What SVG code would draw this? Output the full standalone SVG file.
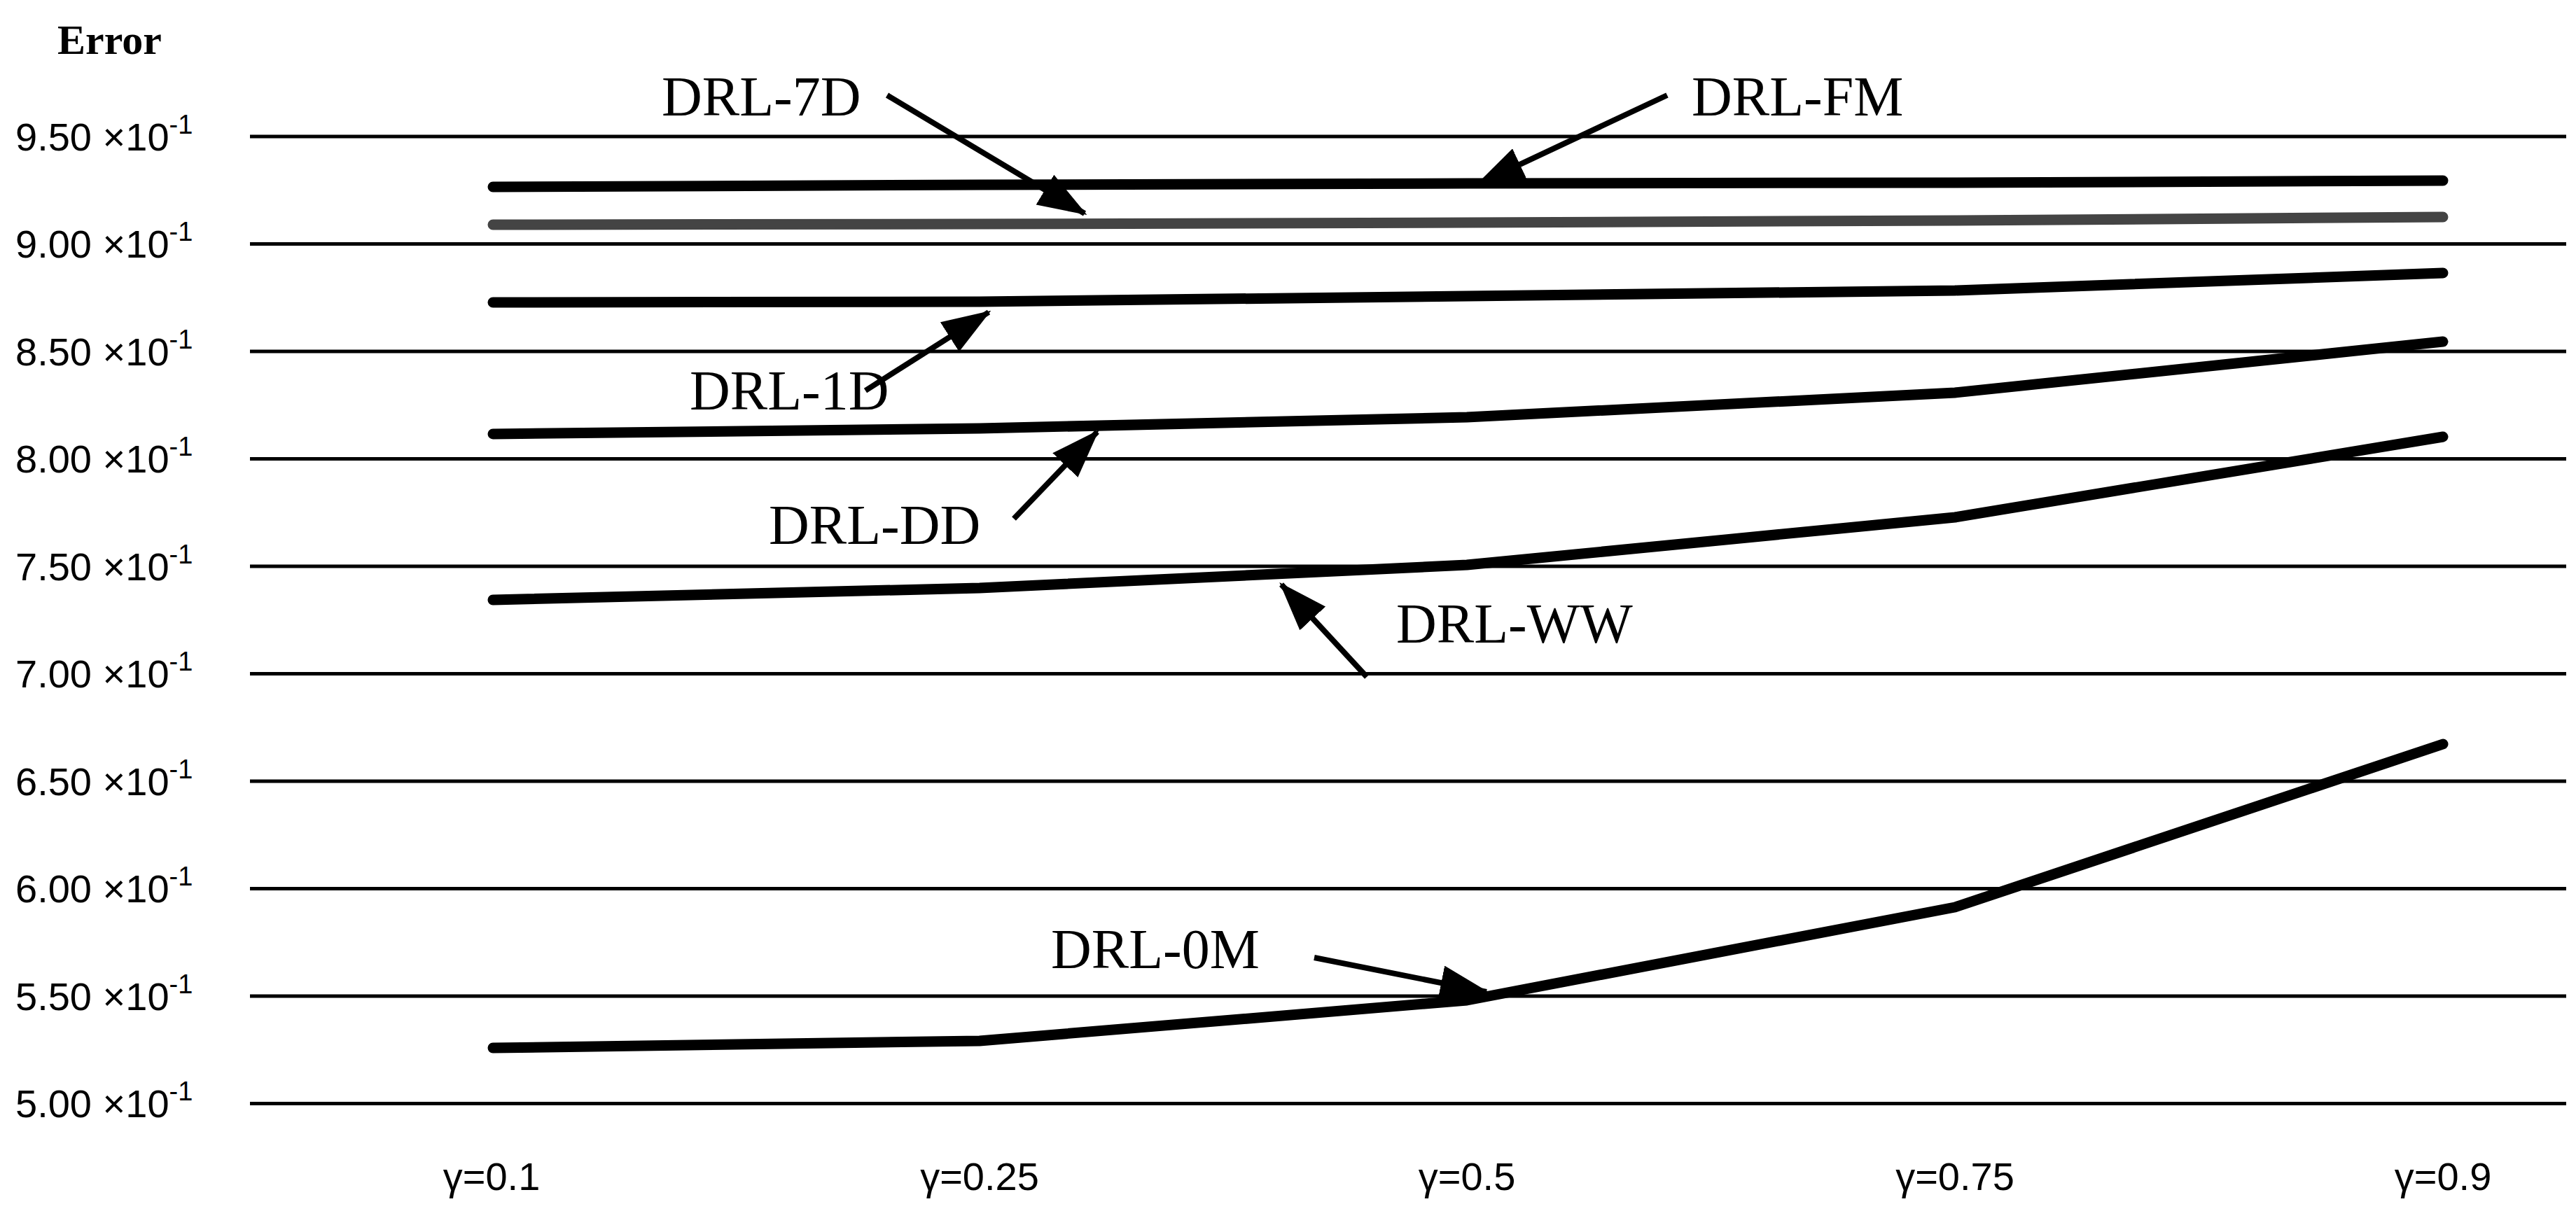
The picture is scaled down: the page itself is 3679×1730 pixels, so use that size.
<svg xmlns="http://www.w3.org/2000/svg" width="3679" height="1730" viewBox="0 0 3679 1730">
<style>
.grid{stroke:#000;stroke-width:5}
.ser{fill:none;stroke:#000;stroke-width:15;stroke-linecap:round;stroke-linejoin:round}
.lab{font-family:"Liberation Serif",serif;font-size:80px;fill:#000}
.ax{font-family:"Liberation Sans",sans-serif;font-size:56px;fill:#000}
.arr{stroke:#000;stroke-width:8;marker-end:url(#ah)}
</style>
<defs>
<marker id="ah" markerUnits="userSpaceOnUse" markerWidth="70" markerHeight="50" refX="66" refY="25" orient="auto">
<path d="M0,0 L70,25 L0,50 Z" fill="#000"/>
</marker>
</defs>
<rect width="3679" height="1730" fill="#fff"/>
<g id="grid">
<line class="grid" x1="357" y1="195" x2="3665" y2="195"/>
<line class="grid" x1="357" y1="348.5" x2="3665" y2="348.5"/>
<line class="grid" x1="357" y1="502" x2="3665" y2="502"/>
<line class="grid" x1="357" y1="655.5" x2="3665" y2="655.5"/>
<line class="grid" x1="357" y1="809" x2="3665" y2="809"/>
<line class="grid" x1="357" y1="962.5" x2="3665" y2="962.5"/>
<line class="grid" x1="357" y1="1116" x2="3665" y2="1116"/>
<line class="grid" x1="357" y1="1269.5" x2="3665" y2="1269.5"/>
<line class="grid" x1="357" y1="1423" x2="3665" y2="1423"/>
<line class="grid" x1="357" y1="1576.5" x2="3665" y2="1576.5"/>
</g>
<g id="ylabels" class="ax">
<text x="22" y="215">9.50 ×10<tspan font-size="38" dy="-24">-1</tspan></text>
<text x="22" y="368">9.00 ×10<tspan font-size="38" dy="-24">-1</tspan></text>
<text x="22" y="522">8.50 ×10<tspan font-size="38" dy="-24">-1</tspan></text>
<text x="22" y="675">8.00 ×10<tspan font-size="38" dy="-24">-1</tspan></text>
<text x="22" y="829">7.50 ×10<tspan font-size="38" dy="-24">-1</tspan></text>
<text x="22" y="982">7.00 ×10<tspan font-size="38" dy="-24">-1</tspan></text>
<text x="22" y="1136">6.50 ×10<tspan font-size="38" dy="-24">-1</tspan></text>
<text x="22" y="1289">6.00 ×10<tspan font-size="38" dy="-24">-1</tspan></text>
<text x="22" y="1443">5.50 ×10<tspan font-size="38" dy="-24">-1</tspan></text>
<text x="22" y="1596">5.00 ×10<tspan font-size="38" dy="-24">-1</tspan></text>
</g>
<text id="ytitle" x="82" y="77" font-family="Liberation Serif,serif" font-weight="bold" font-size="60">Error</text>
<g id="xlabels" class="ax" text-anchor="middle">
<text x="702" y="1700">γ=0.1</text>
<text x="1399" y="1700">γ=0.25</text>
<text x="2095" y="1700">γ=0.5</text>
<text x="2792" y="1700">γ=0.75</text>
<text x="3489" y="1700">γ=0.9</text>
</g>
<g id="series">
<polyline id="s-fm" class="ser" points="704,267 1399,264 2095,262 2792,261 3489,258"/>
<polyline id="s-7d" class="ser" stroke="#444" style="stroke:#444" points="704,321 1399,320 2095,318 2792,315 3489,310"/>
<polyline id="s-1d" class="ser" points="704,432 1399,431 2095,423 2792,415 3489,390"/>
<polyline id="s-dd" class="ser" points="704,620 1399,612 2095,596 2792,561 3489,488"/>
<polyline id="s-ww" class="ser" points="704,857 1399,840 2095,807 2792,739 3489,624"/>
<polyline id="s-0m" class="ser" points="704,1497 1399,1487 2095,1429 2792,1296 3489,1063"/>
</g>
<g id="labels" class="lab">
<text x="945" y="165">DRL-7D</text>
<text x="2416" y="165">DRL-FM</text>
<text x="985" y="585">DRL-1D</text>
<text x="1098" y="777">DRL-DD</text>
<text x="1994" y="918">DRL-WW</text>
<text x="1501" y="1383">DRL-0M</text>
</g>
<g id="connectors">
<line class="arr" x1="1267" y1="136" x2="1549" y2="305"/>
<line class="arr" x1="2381" y1="136" x2="2111" y2="263"/>
<line class="arr" x1="1236" y1="558" x2="1412" y2="446"/>
<line class="arr" x1="1448" y1="741" x2="1567" y2="617"/>
<line class="arr" x1="1952" y1="967" x2="1830" y2="835"/>
<line class="arr" x1="1877" y1="1368" x2="2123" y2="1417"/>
</g>
</svg>
